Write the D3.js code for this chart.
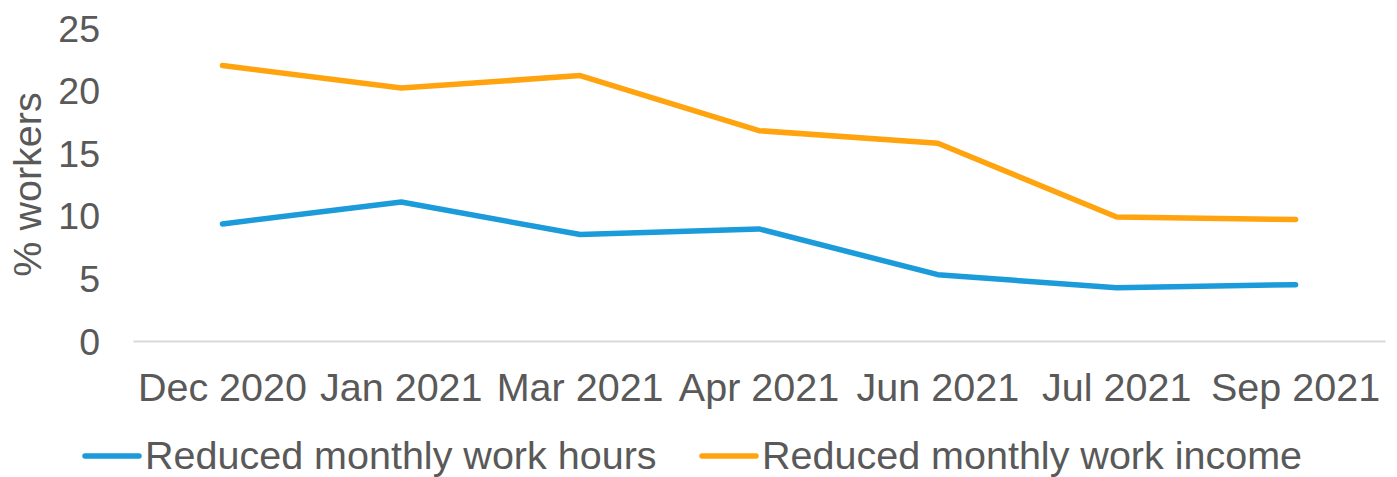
<!DOCTYPE html>
<html>
<head>
<meta charset="utf-8">
<script src="https://cdn.jsdelivr.net/npm/d3@7"></script>
<style>
  html, body { margin: 0; padding: 0; background: #fff; }
  svg { display: block; font-family: "Liberation Sans", Arial, sans-serif; }
</style>
</head>
<body>
<svg id="chart" width="1397" height="477"></svg>
<script>
// Survey waves
const categories = ["Dec 2020", "Jan 2021", "Mar 2021", "Apr 2021", "Jun 2021", "Jul 2021", "Sep 2021"];
// Share of workers (%)
const hoursValues  = [9.35, 11.1, 8.5, 8.95, 5.3, 4.25, 4.5];
const incomeValues = [22.0, 20.2, 21.2, 16.8, 15.8, 9.9, 9.7];
const yTicks = [0, 5, 10, 15, 20, 25];
const seriesNames = ["Reduced monthly work hours", "Reduced monthly work income"];
const seriesColors = ["#1c9bdb", "#ffa40f"];

const svg = d3.select("#chart");
const margin = { left: 133, right: 12, top: 28, bottom: 136 };
const W = 1397, H = 477;

const x = d3.scaleBand().domain(categories)
  .range([margin.left, W - margin.right]).paddingInner(0).paddingOuter(0);
const y = d3.scaleLinear().domain([0, 25]).range([H - margin.bottom, margin.top]);

const textColor = "#595959";
const tickFont = 37.5;
const labelFont = 39.5;

// y tick labels (no gridlines)
const yAxis = svg.append("g")
  .attr("transform", `translate(${margin.left - 33},0)`)
  .call(d3.axisLeft(y).tickValues(yTicks).tickSize(0).tickPadding(0));
yAxis.select(".domain").remove();
yAxis.selectAll("text")
  .attr("fill", textColor)
  .attr("font-size", tickFont)
  .attr("dy", "0.35em");

// category axis
const xAxis = svg.append("g")
  .attr("transform", `translate(0,${y(0)})`)
  .call(d3.axisBottom(x).tickSize(0).tickPadding(0));
xAxis.select(".domain").attr("stroke", "#d9d9d9").attr("stroke-width", 2);
xAxis.selectAll("text")
  .attr("fill", textColor)
  .attr("font-size", labelFont)
  .attr("y", 60)
  .attr("dy", 0);

// y axis title
svg.append("text")
  .attr("transform", `translate(41,${(y(0) + y(25)) / 2}) rotate(-90)`)
  .attr("text-anchor", "middle")
  .attr("fill", textColor)
  .attr("font-size", labelFont)
  .text("% workers");

// series lines
const line = d3.line()
  .x((d, i) => x(categories[i]) + x.bandwidth() / 2)
  .y(d => y(d));

[hoursValues, incomeValues].forEach((vals, k) => {
  svg.append("path")
    .datum(vals)
    .attr("d", line)
    .attr("fill", "none")
    .attr("stroke", seriesColors[k])
    .attr("stroke-width", 5.5)
    .attr("stroke-linejoin", "round")
    .attr("stroke-linecap", "round");
});

// legend
const legendItems = [
  { name: seriesNames[0], color: seriesColors[0], x: 85 },
  { name: seriesNames[1], color: seriesColors[1], x: 702 }
];
const legendY = 456;
const lg = svg.append("g");
legendItems.forEach(it => {
  lg.append("line")
    .attr("x1", it.x).attr("x2", it.x + 54)
    .attr("y1", legendY).attr("y2", legendY)
    .attr("stroke", it.color).attr("stroke-width", 5.5)
    .attr("stroke-linecap", "round");
  lg.append("text")
    .attr("x", it.x + 60)
    .attr("y", legendY + 13)
    .attr("fill", textColor)
    .attr("font-size", labelFont)
    .text(it.name);
});
</script>
</body>
</html>
